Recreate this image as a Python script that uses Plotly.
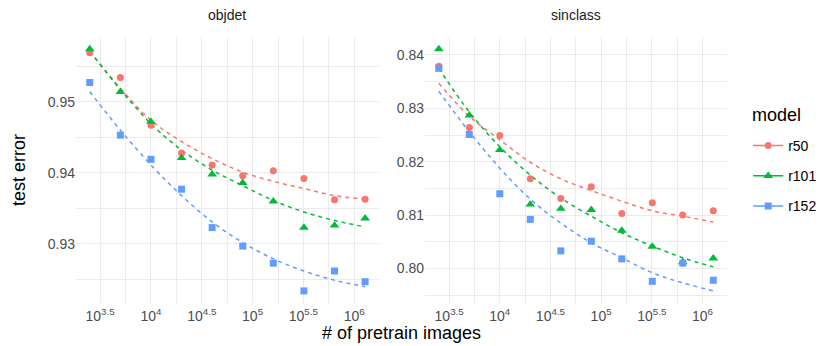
import numpy as np
import plotly.graph_objects as go

# ---------------- data ----------------
n_images = [2500, 5000, 10000, 20000, 40000, 80000, 160000, 320000, 640000, 1280000]
models = ["r50", "r101", "r152"]
panels = ["objdet", "sinclass"]

# observed test error (points)
objdet_r50 = [0.9569, 0.9534, 0.9467, 0.9428, 0.9411, 0.9396, 0.9403, 0.9392, 0.9362, 0.9363]
objdet_r101 = [0.9574, 0.9514, 0.9472, 0.9421, 0.9398, 0.9386, 0.9360, 0.9323, 0.9326, 0.9336]
objdet_r152 = [0.9527, 0.9453, 0.9419, 0.9377, 0.9323, 0.9297, 0.9273, 0.9234, 0.9262, 0.9247]

sinclass_r50 = [0.8379, 0.8264, 0.8249, 0.8168, 0.8131, 0.8153, 0.8103, 0.8123, 0.8100, 0.8108]
sinclass_r101 = [0.8411, 0.8287, 0.8222, 0.8120, 0.8112, 0.8110, 0.8071, 0.8041, 0.8012, 0.8019]
sinclass_r152 = [0.8375, 0.8251, 0.8140, 0.8092, 0.8033, 0.8051, 0.8018, 0.7976, 0.8010, 0.7978]

# fitted trend (dashed smooth lines), read at the same sizes
objdet_r50_fit = [0.9571, 0.9519, 0.9474, 0.9444, 0.9420, 0.9401, 0.9388, 0.9378, 0.9368, 0.9363]
objdet_r101_fit = [0.9571, 0.9517, 0.9469, 0.9432, 0.9404, 0.9382, 0.9361, 0.9345, 0.9333, 0.9324]
objdet_r152_fit = [0.9514, 0.9460, 0.9411, 0.9368, 0.9331, 0.9302, 0.9279, 0.9262, 0.9249, 0.9240]

sinclass_r50_fit = [0.8347, 0.8285, 0.8241, 0.8199, 0.8168, 0.8146, 0.8126, 0.8108, 0.8098, 0.8087]
sinclass_r101_fit = [0.8375, 0.8293, 0.8228, 0.8175, 0.8132, 0.8098, 0.8067, 0.8042, 0.8020, 0.8003]
sinclass_r152_fit = [0.8332, 0.8256, 0.8188, 0.8130, 0.8085, 0.8048, 0.8020, 0.7992, 0.7973, 0.7958]

x_tickvals_log = [3.5, 4.0, 4.5, 5.0, 5.5, 6.0]
x_ticktext = ["10<sup>3.5</sup>", "10<sup>4</sup>", "10<sup>4.5</sup>",
              "10<sup>5</sup>", "10<sup>5.5</sup>", "10<sup>6</sup>"]

points = {
    "objdet": [objdet_r50, objdet_r101, objdet_r152],
    "sinclass": [sinclass_r50, sinclass_r101, sinclass_r152],
}
fits = {
    "objdet": [objdet_r50_fit, objdet_r101_fit, objdet_r152_fit],
    "sinclass": [sinclass_r50_fit, sinclass_r101_fit, sinclass_r152_fit],
}
y_ticks = {
    "objdet": [0.93, 0.94, 0.95],
    "sinclass": [0.80, 0.81, 0.82, 0.83, 0.84],
}

# ---------------- style ----------------
colors = ["#F8766D", "#00BA38", "#619CFF"]
symbols = ["circle", "triangle-up", "square"]
msizes = [7, 8.5, 7]
FONT = "Liberation Sans, Arial, sans-serif"
GRID = "#EBEBEB"
SMALL = 14
BIG = 18

fig = go.Figure()
axes = [("x", "y"), ("x2", "y2")]

for p_i, panel in enumerate(panels):
    xa, ya = axes[p_i]
    for m_i, model in enumerate(models):
        fig.add_trace(go.Scatter(
            x=n_images, y=fits[panel][m_i], xaxis=xa, yaxis=ya,
            mode="lines", line=dict(color=colors[m_i], width=1.5, dash="4px,4px", shape="spline"),
            showlegend=False, legendgroup=model, hoverinfo="skip"))
    for m_i, model in enumerate(models):
        fig.add_trace(go.Scatter(
            x=n_images, y=points[panel][m_i], xaxis=xa, yaxis=ya,
            mode="markers", marker=dict(color=colors[m_i], symbol=symbols[m_i], size=msizes[m_i]),
            showlegend=False, legendgroup=model, name=model))

# legend-only entries
for m_i, model in enumerate(models):
    fig.add_trace(go.Scatter(
        x=[None], y=[None], mode="lines+markers", name=model, legendgroup=model,
        line=dict(color=colors[m_i], width=1.5),
        marker=dict(color=colors[m_i], symbol=symbols[m_i], size=msizes[m_i])))

# ---------------- ranges (ggplot-like 5% expansion) ----------------
lx = np.log10(n_images)
xpad = 0.05 * (lx.max() - lx.min())
xrange = [lx.min() - xpad, lx.max() + xpad]

def yrange(panel):
    vals = np.concatenate([np.array(v) for v in points[panel] + fits[panel]])
    pad = 0.05 * (vals.max() - vals.min())
    return [vals.min() - pad, vals.max() + pad]

def minor_between(v):
    step = v[1] - v[0]
    return [v[0] - step / 2] + [a + step / 2 for a in v]

x_minor = [10 ** t for t in minor_between(x_tickvals_log)]

domains = [[0.0, 308 / 662], [355 / 662, 1.0]]
common_x = dict(
    type="log", range=xrange, tickmode="array",
    tickvals=[10 ** t for t in x_tickvals_log], ticktext=x_ticktext,
    showgrid=True, gridcolor=GRID, gridwidth=1.1, zeroline=False, showline=False,
    ticks="", ticklabelstandoff=3, tickfont=dict(family=FONT, size=SMALL, color="#4D4D4D"),
    minor=dict(tickmode="array", tickvals=x_minor, showgrid=True, gridcolor=GRID, gridwidth=0.8, ticks=""),
)
fig.update_layout(
    xaxis=dict(domain=domains[0], **common_x),
    xaxis2=dict(domain=domains[1], anchor="y2", **common_x),
)
for p_i, panel in enumerate(panels):
    key = "yaxis" if p_i == 0 else "yaxis2"
    yt = y_ticks[panel]
    cfg = dict(
        range=yrange(panel), tickmode="array", tickvals=yt,
        ticktext=[f"{v:.2f}" for v in yt],
        showgrid=True, gridcolor=GRID, gridwidth=1.1, zeroline=False, showline=False,
        ticks="", tickfont=dict(family=FONT, size=SMALL, color="#4D4D4D"),
        minor=dict(tickmode="array", tickvals=minor_between(yt), showgrid=True,
                   gridcolor=GRID, gridwidth=0.8, ticks=""),
    )
    if p_i == 1:
        cfg["anchor"] = "x2"
    fig.update_layout({key: cfg})

annotations = []
for p_i, panel in enumerate(panels):
    annotations.append(dict(
        text=panel, xref="paper", yref="paper",
        x=sum(domains[p_i]) / 2, y=1, xanchor="center", yanchor="bottom", yshift=12,
        showarrow=False, font=dict(family=FONT, size=SMALL, color="#1A1A1A")))
annotations.append(dict(
    text="# of pretrain images", xref="paper", yref="paper", x=0.5, y=0,
    xanchor="center", yanchor="middle", yshift=-30, showarrow=False,
    font=dict(family=FONT, size=BIG, color="#000000")))
annotations.append(dict(
    text="test error", xref="paper", yref="paper", x=0, y=0.5, xshift=-57,
    xanchor="center", yanchor="middle", textangle=-90, showarrow=False,
    font=dict(family=FONT, size=BIG, color="#000000")))
annotations.append(dict(
    text="model", xref="paper", yref="paper", x=(753 - 68) / 662, y=(295 - 107) / 266,
    xanchor="left", yanchor="middle", showarrow=False,
    font=dict(family=FONT, size=BIG, color="#000000")))

fig.update_layout(
    width=826, height=346,
    margin=dict(l=68, r=96, t=29, b=51),
    paper_bgcolor="white", plot_bgcolor="white",
    font=dict(family=FONT),
    annotations=annotations,
    legend=dict(
        font=dict(family=FONT, size=SMALL, color="#000000"),
        x=1.0325, xanchor="left", y=(295 - 168) / 266, yanchor="middle",
        itemwidth=30, tracegroupgap=9, bgcolor="rgba(0,0,0,0)"),
)

fig.write_html("out.html")
